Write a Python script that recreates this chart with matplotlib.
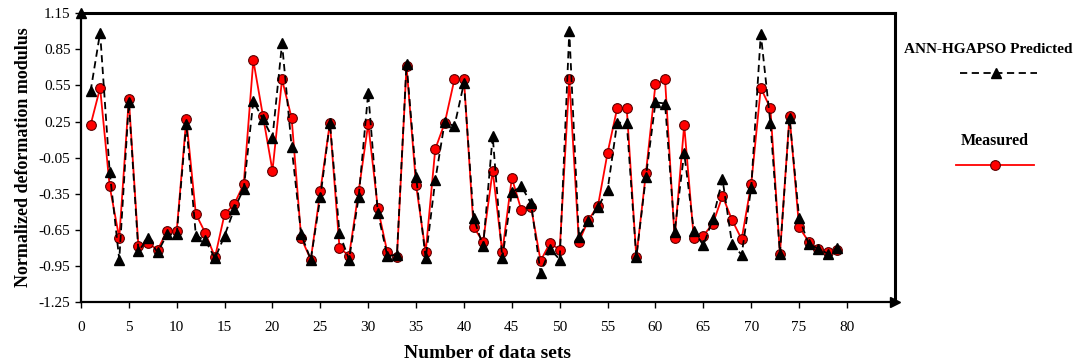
import matplotlib.pyplot as plt
from matplotlib.lines import Line2D
import numpy as np

plt.rcParams["font.family"] = ["Liberation Serif", "DejaVu Serif"]

# data
data_sets = list(range(1, 80))
predicted = [
    0.50, 0.99, -0.17, -0.90, 0.41, -0.83, -0.72, -0.84, -0.69, -0.69,
    0.23, -0.70, -0.74, -0.89, -0.70, -0.48, -0.31, 0.42, 0.27, 0.115,
    0.90, 0.04, -0.69, -0.90, -0.38, 0.24, -0.68, -0.90, -0.38, 0.49,
    -0.51, -0.87, -0.86, 0.73, -0.21, -0.89, -0.24, 0.25, 0.21, 0.57,
    -0.55, -0.79, 0.13, -0.89, -0.34, -0.29, -0.43, -1.01, -0.81, -0.90,
    1.00, -0.71, -0.58, -0.46, -0.32, 0.24, 0.24, -0.88, -0.21, 0.41,
    0.40, -0.67, -0.01, -0.66, -0.78, -0.56, -0.23, -0.77, -0.86, -0.30,
    0.98, 0.24, -0.85, 0.28, -0.55, -0.77, -0.81, -0.85, -0.80,
]
measured = [
    0.22, 0.53, -0.29, -0.72, 0.44, -0.79, -0.76, -0.82, -0.66, -0.66,
    0.27, -0.52, -0.68, -0.88, -0.52, -0.44, -0.27, 0.76, 0.30, -0.16,
    0.60, 0.28, -0.72, -0.90, -0.33, 0.24, -0.80, -0.87, -0.33, 0.23,
    -0.47, -0.84, -0.88, 0.71, -0.28, -0.84, 0.02, 0.24, 0.60, 0.60,
    -0.63, -0.75, -0.16, -0.84, -0.22, -0.49, -0.46, -0.91, -0.76, -0.82,
    0.60, -0.75, -0.57, -0.45, -0.01, 0.36, 0.36, -0.88, -0.18, 0.56,
    0.60, -0.72, 0.22, -0.72, -0.70, -0.60, -0.37, -0.57, -0.73, -0.27,
    0.53, 0.36, -0.85, 0.30, -0.63, -0.75, -0.81, -0.84, -0.82,
]
x_ticks = list(range(0, 81, 5))
y_ticks = [1.15, 0.85, 0.55, 0.25, -0.05, -0.35, -0.65, -0.95, -1.25]

fig = plt.figure(figsize=(10.78, 3.63), dpi=100)
ax = fig.add_axes([0.0751, 0.169, 0.755, 0.794])

ax.plot(data_sets, measured, color="red", linewidth=1.3, marker="o",
        markersize=7, markerfacecolor="red", markeredgecolor="#5a0000",
        markeredgewidth=0.8, zorder=2)
ax.plot(data_sets, predicted, color="black", linewidth=1.3, linestyle=(0, (4, 2.5)),
        marker="^", markersize=7, markerfacecolor="black", markeredgecolor="black",
        zorder=3)

ax.set_xlim(0, 85)
ax.set_ylim(-1.25, 1.15)
ax.set_xticks(x_ticks)
ax.set_yticks(y_ticks)
ax.set_yticklabels([f"{v:.2f}" for v in y_ticks])
ax.tick_params(axis="both", direction="out", length=4, width=1, labelsize=11)
ax.tick_params(axis="x", pad=10)

for side in ["top", "right"]:
    ax.spines[side].set_linewidth(2.2)
for side in ["left", "bottom"]:
    ax.spines[side].set_linewidth(1.6)

# axis arrow heads
ax.plot([0], [1], marker="^", color="black", markersize=7,
        transform=ax.transAxes, clip_on=False, zorder=5)
ax.plot([1], [0], marker=">", color="black", markersize=7,
        transform=ax.transAxes, clip_on=False, zorder=5)

ax.set_xlabel("Number of data sets", fontsize=14, fontweight="bold", labelpad=8)
ax.set_ylabel("Normalized deformation modulus", fontsize=13, fontweight="bold", labelpad=5)

# legend drawn to the right, text above each sample line
fig.text(0.917, 0.865, "ANN-HGAPSO Predicted", ha="center", va="center",
         fontsize=11, fontweight="bold")
fig.add_artist(Line2D([0.891, 0.962], [0.799, 0.799], color="black", linewidth=1.3,
                      linestyle=(0, (4, 2.5)), transform=fig.transFigure))
fig.add_artist(Line2D([0.924], [0.799], marker="^", color="black", markersize=7,
                      transform=fig.transFigure))
fig.text(0.923, 0.612, "Measured", ha="center", va="center",
         fontsize=11.5, fontweight="bold")
fig.add_artist(Line2D([0.887, 0.959], [0.545, 0.545], color="red", linewidth=1.3,
                      transform=fig.transFigure))
fig.add_artist(Line2D([0.923], [0.545], marker="o", color="red", markersize=7,
                      markeredgecolor="#5a0000", markeredgewidth=0.8,
                      transform=fig.transFigure))

fig.savefig("out.png", dpi=100)
